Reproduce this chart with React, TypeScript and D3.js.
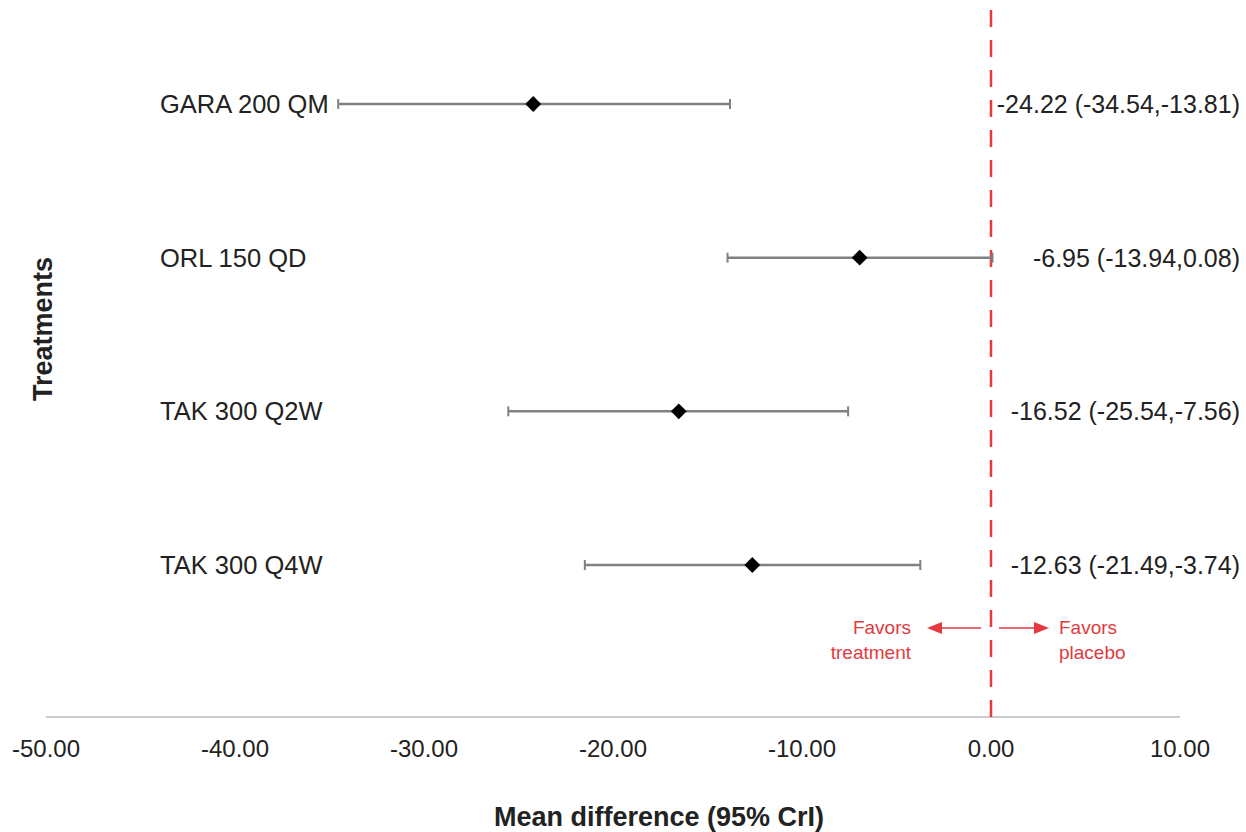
import React from "react";
import * as d3 from "d3";

const treatments = ["GARA 200 QM", "ORL 150 QD", "TAK 300 Q2W", "TAK 300 Q4W"];
const means = [-24.22, -6.95, -16.52, -12.63];
const lowers = [-34.54, -13.94, -25.54, -21.49];
const uppers = [-13.81, 0.08, -7.56, -3.74];
const tickValues = [-50, -40, -30, -20, -10, 0, 10];

const W = 1246;
const H = 832;
const FONT = "Liberation Sans, Arial, Helvetica, sans-serif";
const RED = "#e23a3f";

const fmt = (v: number) => d3.format(".2f")(v).replace("\u2212", "-");

export default function App() {
  const x = d3.scaleLinear().domain([-50, 10]).range([46, 1180]);
  const y = d3.scalePoint<string>().domain(treatments).range([104, 565]);
  const axisY = 717;
  const diamond = d3.symbol().type(d3.symbolSquare).size(125)() as string;

  return (
    <svg
      width={W}
      height={H}
      style={{ position: "absolute", left: 0, top: 0, background: "#fff" }}
      fontFamily={FONT}
    >
      {/* axis line */}
      <line x1={x(-50)} x2={x(10)} y1={axisY} y2={axisY} stroke="#cccccc" strokeWidth={2} />
      {tickValues.map((t) => (
        <text key={t} x={x(t)} y={757} textAnchor="middle" fontSize={24} fill="#222">
          {fmt(t)}
        </text>
      ))}
      <text x={659} y={826} textAnchor="middle" fontSize={27} fontWeight="bold" fill="#222">
        Mean difference (95% CrI)
      </text>
      <text
        transform={`translate(52,329) rotate(-90)`}
        textAnchor="middle"
        fontSize={27}
        fontWeight="bold"
        fill="#222"
      >
        Treatments
      </text>

      {/* reference line */}
      <line x1={x(0)} x2={x(0)} y1={10} y2={axisY} stroke={RED} strokeWidth={2.5} strokeDasharray="17,13" />

      {/* rows */}
      {treatments.map((t, i) => {
        const cy = y(t) as number;
        return (
          <g key={t}>
            <text x={160} y={cy + 9} fontSize={25.5} fill="#222">
              {t}
            </text>
            <line x1={x(lowers[i])} x2={x(uppers[i])} y1={cy} y2={cy} stroke="#808080" strokeWidth={2.5} />
            <line x1={x(lowers[i])} x2={x(lowers[i])} y1={cy - 5} y2={cy + 5} stroke="#808080" strokeWidth={2} />
            <line x1={x(uppers[i])} x2={x(uppers[i])} y1={cy - 5} y2={cy + 5} stroke="#808080" strokeWidth={2} />
            <path d={diamond} transform={`translate(${x(means[i])},${cy}) rotate(45)`} fill="#000" />
            <text x={1240} y={cy + 9} textAnchor="end" fontSize={25} fill="#222">
              {`${fmt(means[i])} (${fmt(lowers[i])},${fmt(uppers[i])})`}
            </text>
          </g>
        );
      })}

      {/* favors annotation */}
      <line x1={x(0) - 10} x2={x(0) - 52} y1={628} y2={628} stroke={RED} strokeWidth={1.5} />
      <path d={`M${x(0) - 64},628 L${x(0) - 49},622 L${x(0) - 49},634 Z`} fill={RED} />
      <line x1={x(0) + 8} x2={x(0) + 46} y1={628} y2={628} stroke={RED} strokeWidth={1.5} />
      <path d={`M${x(0) + 58},628 L${x(0) + 43},622 L${x(0) + 43},634 Z`} fill={RED} />
      <text x={x(0) - 80} y={634} textAnchor="end" fontSize={19} fill={RED}>
        Favors
      </text>
      <text x={x(0) - 80} y={659} textAnchor="end" fontSize={19} fill={RED}>
        treatment
      </text>
      <text x={x(0) + 68} y={634} fontSize={19} fill={RED}>
        Favors
      </text>
      <text x={x(0) + 68} y={659} fontSize={19} fill={RED}>
        placebo
      </text>
    </svg>
  );
}
